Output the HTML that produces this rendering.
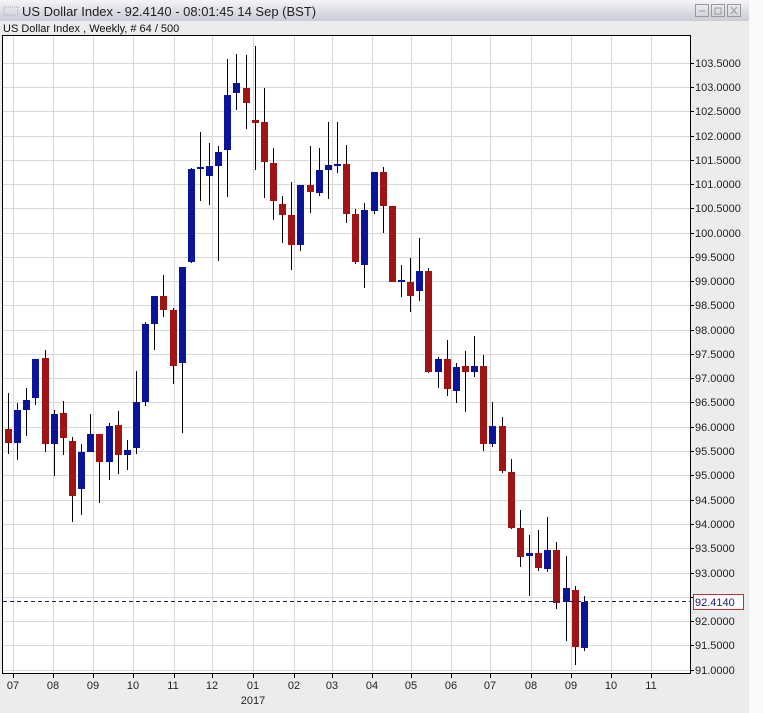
<!DOCTYPE html>
<html><head><meta charset="utf-8"><style>
html,body{margin:0;padding:0;background:#fff}
svg{display:block}
text{font-family:"Liberation Sans",sans-serif}
</style></head><body>
<svg width="763" height="713" xmlns="http://www.w3.org/2000/svg">
<defs><linearGradient id="tb" x1="0" y1="0" x2="0" y2="1"><stop offset="0" stop-color="#f4f4f8"/><stop offset="1" stop-color="#c9cbd6"/></linearGradient></defs>
<rect x="0" y="0" width="749" height="713" fill="#ececec"/>
<rect x="749" y="0" width="14" height="713" fill="#fafafa"/>
<rect x="0" y="0" width="749" height="21" fill="url(#tb)"/>
<g fill="#999"><rect x="4" y="7" width="14" height="8" fill="none" stroke="#aaa" stroke-dasharray="1,1"/></g>
<text x="22" y="16" font-size="13" fill="#222">US Dollar Index - 92.4140 - 08:01:45  14 Sep (BST)</text>
<g fill="none" stroke="#999"><rect x="695.5" y="4.5" width="13" height="12"/><rect x="711.5" y="4.5" width="13" height="12"/><rect x="727.5" y="4.5" width="13" height="12"/></g>
<path d="M699 11h6M715 8h6v6h-6zM731 7l6 7M737 7l-6 7" stroke="#999" fill="none"/>
<text x="3" y="32" font-size="11" fill="#111">US Dollar Index , Weekly, # 64 / 500</text>
<rect x="3" y="35.5" width="687" height="638" fill="#fff"/>
<g stroke="#d8d8d8" stroke-width="1">
<path d="M3 63.5H690M3 87.5H690M3 111.5H690M3 136.5H690M3 160.5H690M3 184.5H690M3 208.5H690M3 233.5H690M3 257.5H690M3 281.5H690M3 305.5H690M3 330.5H690M3 354.5H690M3 378.5H690M3 402.5H690M3 427.5H690M3 451.5H690M3 475.5H690M3 500.5H690M3 524.5H690M3 548.5H690M3 573.5H690M3 597.5H690M3 621.5H690M3 645.5H690M3 670.5H690"/>
<path d="M13.5 36V674M53.5 36V674M93.5 36V674M133.5 36V674M174.5 36V674M212.5 36V674M253.5 36V674M294.5 36V674M332.5 36V674M372.5 36V674M411.5 36V674M451.5 36V674M490.5 36V674M531.5 36V674M571.5 36V674M611.5 36V674M651.5 36V674"/>
</g>
<g stroke="#000" stroke-width="1">
<path d="M8.5 393V454M17.5 403V460M26.5 388V436M35.5 359V405M45.5 350V452M54.5 410V476M63.5 401V455M72.5 437V522M81.5 444V515M90.5 414V452M99.5 434V503M109.5 423V480M118.5 411V474M127.5 440V470M136.5 371V454M145.5 322V406M154.5 296V350M163.5 275V317M173.5 308V384M182.5 267V433M191.5 168V263M200.5 132V201M209.5 143V205M218.5 146V261M227.5 59V197M236.5 54V110M246.5 55V129M255.5 46V170M264.5 88V198M273.5 148V220M282.5 196V243M291.5 182V270M300.5 185V251M310.5 146V213M319.5 148V196M328.5 122V199M337.5 122V173M346.5 145V223M355.5 209V264M364.5 203V288M374.5 172V214M383.5 167V233M392.5 206V282M401.5 265V297M410.5 258V312M419.5 238V301M428.5 268V373M438.5 357V388M447.5 340V396M456.5 363V403M465.5 351V412M474.5 336V377M483.5 355V451M492.5 402V447M502.5 417V473M511.5 459V529M520.5 510V567M529.5 535V596M538.5 530V571M547.5 517V572M556.5 542V609M566.5 556V641M575.5 586V665M584.5 596V651"/>
</g>
<g fill="#a01414">
<rect x="5" y="429" width="7" height="14"/><rect x="42" y="358" width="7" height="86"/><rect x="60" y="413" width="7" height="25"/><rect x="69" y="441" width="7" height="55"/><rect x="96" y="434" width="7" height="28"/><rect x="115" y="425" width="7" height="30"/><rect x="160" y="296" width="7" height="14"/><rect x="170" y="310" width="7" height="56"/><rect x="243" y="88" width="7" height="15"/><rect x="252" y="120" width="7" height="3"/><rect x="261" y="122" width="7" height="40"/><rect x="270" y="163" width="7" height="38"/><rect x="279" y="204" width="7" height="11"/><rect x="288" y="215" width="7" height="30"/><rect x="307" y="185" width="7" height="7"/><rect x="343" y="164" width="7" height="50"/><rect x="352" y="214" width="7" height="48"/><rect x="380" y="172" width="7" height="34"/><rect x="389" y="206" width="7" height="76"/><rect x="407" y="282" width="7" height="14"/><rect x="425" y="271" width="7" height="101"/><rect x="444" y="359" width="7" height="30"/><rect x="462" y="366" width="7" height="6"/><rect x="480" y="366" width="7" height="78"/><rect x="499" y="426" width="7" height="45"/><rect x="508" y="472" width="7" height="56"/><rect x="517" y="528" width="7" height="29"/><rect x="535" y="553" width="7" height="15"/><rect x="553" y="550" width="7" height="53"/><rect x="572" y="590" width="7" height="57"/>
</g>
<g fill="#0a1496">
<rect x="14" y="410" width="7" height="33"/><rect x="23" y="400" width="7" height="10"/><rect x="32" y="359" width="7" height="39"/><rect x="51" y="414" width="7" height="30"/><rect x="78" y="452" width="7" height="37"/><rect x="87" y="434" width="7" height="18"/><rect x="106" y="426" width="7" height="36"/><rect x="124" y="450" width="7" height="5"/><rect x="133" y="402" width="7" height="46"/><rect x="142" y="324" width="7" height="78"/><rect x="151" y="296" width="7" height="28"/><rect x="179" y="267" width="7" height="96"/><rect x="188" y="169" width="7" height="93"/><rect x="197" y="167" width="7" height="2"/><rect x="206" y="166" width="7" height="10"/><rect x="215" y="152" width="7" height="14"/><rect x="224" y="95" width="7" height="55"/><rect x="233" y="83" width="7" height="10"/><rect x="297" y="185" width="7" height="60"/><rect x="316" y="170" width="7" height="23"/><rect x="325" y="165" width="7" height="5"/><rect x="334" y="164" width="7" height="2"/><rect x="361" y="210" width="7" height="55"/><rect x="371" y="172" width="7" height="39"/><rect x="398" y="280" width="7" height="2"/><rect x="416" y="271" width="7" height="20"/><rect x="435" y="359" width="7" height="13"/><rect x="453" y="367" width="7" height="24"/><rect x="471" y="366" width="7" height="6"/><rect x="489" y="426" width="7" height="18"/><rect x="526" y="553" width="7" height="3"/><rect x="544" y="550" width="7" height="19"/><rect x="563" y="588" width="7" height="14"/><rect x="581" y="602" width="7" height="46"/>
</g>
<line x1="3" y1="601.5" x2="690" y2="601.5" stroke="#1a1a6a" stroke-dasharray="4,3"/>
<rect x="2.5" y="35.5" width="688" height="638" fill="none" stroke="#000"/>
<g stroke="#000"><path d="M690 63.5h4M690 87.5h4M690 111.5h4M690 136.5h4M690 160.5h4M690 184.5h4M690 208.5h4M690 233.5h4M690 257.5h4M690 281.5h4M690 305.5h4M690 330.5h4M690 354.5h4M690 378.5h4M690 402.5h4M690 427.5h4M690 451.5h4M690 475.5h4M690 500.5h4M690 524.5h4M690 548.5h4M690 573.5h4M690 597.5h4M690 621.5h4M690 645.5h4M690 670.5h4"/>
<path d="M13.5 674v4M53.5 674v4M93.5 674v4M133.5 674v4M174.5 674v4M212.5 674v4M253.5 674v4M294.5 674v4M332.5 674v4M372.5 674v4M411.5 674v4M451.5 674v4M490.5 674v4M531.5 674v4M571.5 674v4M611.5 674v4M651.5 674v4"/></g>
<g font-size="11" fill="#222">
<text x="695" y="67">103.5000</text><text x="695" y="91">103.0000</text><text x="695" y="115">102.5000</text><text x="695" y="140">102.0000</text><text x="695" y="164">101.5000</text><text x="695" y="188">101.0000</text><text x="695" y="212">100.5000</text><text x="695" y="237">100.0000</text><text x="695" y="261">99.5000</text><text x="695" y="285">99.0000</text><text x="695" y="309">98.5000</text><text x="695" y="334">98.0000</text><text x="695" y="358">97.5000</text><text x="695" y="382">97.0000</text><text x="695" y="406">96.5000</text><text x="695" y="431">96.0000</text><text x="695" y="455">95.5000</text><text x="695" y="479">95.0000</text><text x="695" y="504">94.5000</text><text x="695" y="528">94.0000</text><text x="695" y="552">93.5000</text><text x="695" y="577">93.0000</text><text x="695" y="625">92.0000</text><text x="695" y="649">91.5000</text><text x="695" y="674">91.0000</text>
</g>
<rect x="693.5" y="594.5" width="50" height="15" fill="#fff" stroke="#c03030"/>
<text x="695" y="606" font-size="11" fill="#1a1a6a">92.4140</text>
<g font-size="11" fill="#222" text-anchor="middle">
<text x="13" y="689">07</text><text x="53" y="689">08</text><text x="93" y="689">09</text><text x="133" y="689">10</text><text x="173" y="689">11</text><text x="212" y="689">12</text><text x="253" y="689">01</text><text x="294" y="689">02</text><text x="332" y="689">03</text><text x="372" y="689">04</text><text x="411" y="689">05</text><text x="451" y="689">06</text><text x="490" y="689">07</text><text x="531" y="689">08</text><text x="571" y="689">09</text><text x="611" y="689">10</text><text x="651" y="689">11</text>
<text x="253" y="704">2017</text>
</g>
</svg>
</body></html>
